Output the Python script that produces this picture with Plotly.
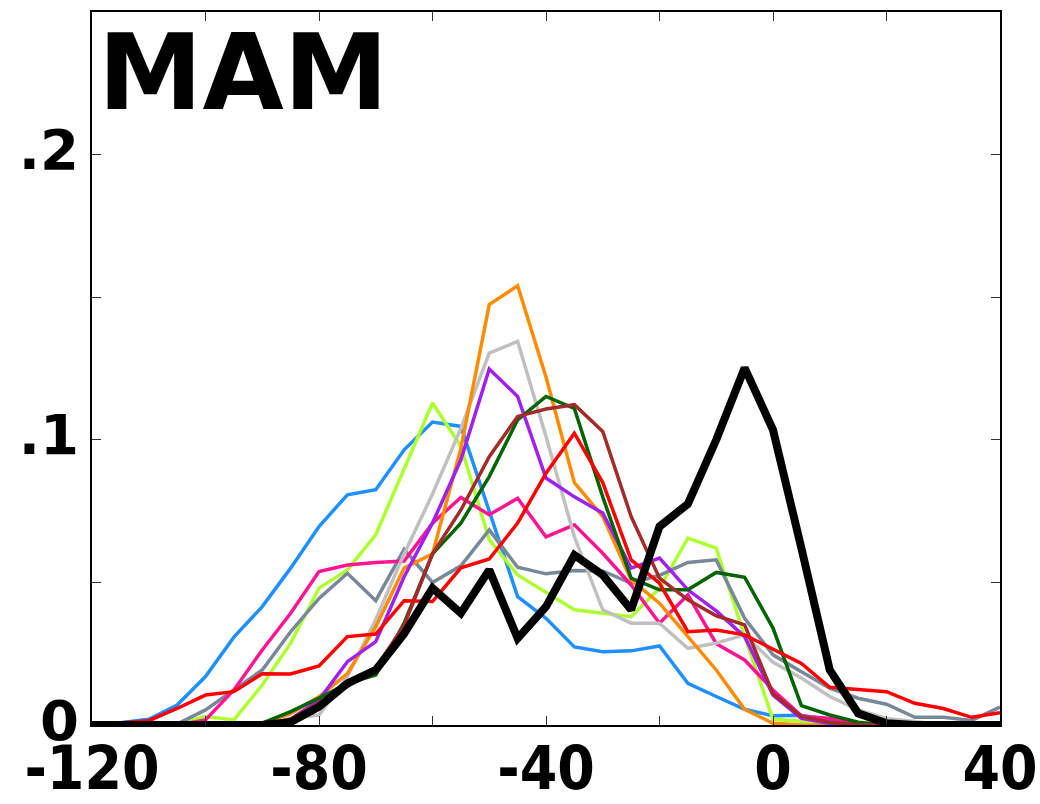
import plotly.graph_objects as go

x_bins = list(range(-120, 45, 5))

blue = [0, 0.0008, 0.002, 0.007, 0.017, 0.0308, 0.0415, 0.055, 0.0696, 0.0807, 0.0825, 0.0965, 0.1062, 0.1047, 0.075, 0.045, 0.0374, 0.0274, 0.0257, 0.026, 0.0277, 0.0146, 0.01, 0.0055, 0.0032, 0.0034, 0.0016, 0.0005, 0, 0, 0, 0, 0]
red = [0, 0.0006, 0.0015, 0.0058, 0.0105, 0.0117, 0.018, 0.0179, 0.0207, 0.031, 0.0319, 0.0436, 0.0433, 0.0551, 0.0582, 0.0708, 0.0883, 0.1023, 0.085, 0.0579, 0.0497, 0.0327, 0.0333, 0.0316, 0.0266, 0.0216, 0.0132, 0.0125, 0.0117, 0.0076, 0.0058, 0.0027, 0.0043]
pink = [0, 0, 0, 0, 0.0018, 0.0123, 0.0263, 0.0392, 0.0538, 0.0561, 0.057, 0.0575, 0.0708, 0.0798, 0.0737, 0.0795, 0.066, 0.0702, 0.0602, 0.0491, 0.0357, 0.0456, 0.0285, 0.0228, 0.0123, 0.0032, 0.0023, 0.0006, 0, 0, 0, 0, 0]
gray = [0, 0, 0, 0.0003, 0.0053, 0.0123, 0.0193, 0.0327, 0.0444, 0.0532, 0.0436, 0.0616, 0.050, 0.0558, 0.0684, 0.0553, 0.053, 0.0542, 0.054, 0.0497, 0.0525, 0.057, 0.0579, 0.0374, 0.0246, 0.0187, 0.0129, 0.0094, 0.0073, 0.0027, 0.0027, 0.0016, 0.0063]
lime = [0, 0, 0, 0.0003, 0.003, 0.0018, 0.014, 0.0287, 0.048, 0.0544, 0.0667, 0.0895, 0.1129, 0.0977, 0.065, 0.0526, 0.0465, 0.0404, 0.0392, 0.038, 0.048, 0.0655, 0.062, 0.031, 0.002, 0.0012, 0.0006, 0, 0, 0, 0, 0, 0]
orange = [0, 0, 0, 0, 0, 0, 0.0005, 0.004, 0.0099, 0.018, 0.0345, 0.055, 0.060, 0.097, 0.1474, 0.154, 0.122, 0.085, 0.0731, 0.0509, 0.0427, 0.031, 0.0193, 0.0055, 0.0006, 0, 0, 0, 0, 0, 0, 0, 0]
silver = [0, 0, 0, 0, 0, 0, 0, 0.0023, 0.0035, 0.017, 0.037, 0.060, 0.081, 0.104, 0.1304, 0.1345, 0.1012, 0.066, 0.0404, 0.0357, 0.0357, 0.0269, 0.0287, 0.0316, 0.022, 0.0165, 0.01, 0.0053, 0.0023, 0.0012, 0, 0, 0]
purple = [0, 0, 0, 0, 0, 0, 0, 0.002, 0.0088, 0.0222, 0.0292, 0.052, 0.0708, 0.093, 0.1248, 0.1152, 0.0866, 0.080, 0.0743, 0.055, 0.0585, 0.0474, 0.040, 0.031, 0.0105, 0.0023, 0.0005, 0, 0, 0, 0, 0, 0]
darkgreen = [0, 0, 0, 0, 0, 0, 0.0007, 0.0047, 0.0094, 0.0146, 0.0175, 0.0357, 0.060, 0.0708, 0.0871, 0.107, 0.1152, 0.111, 0.080, 0.0515, 0.0474, 0.0474, 0.0535, 0.0518, 0.034, 0.0068, 0.0035, 0.001, 0, 0, 0, 0, 0]
brown = [0, 0, 0, 0, 0, 0, 0, 0.002, 0.0076, 0.0135, 0.0199, 0.035, 0.060, 0.0754, 0.0941, 0.1082, 0.1108, 0.1123, 0.1029, 0.0731, 0.0515, 0.0439, 0.0383, 0.0351, 0.011, 0.003, 0.001, 0, 0, 0, 0, 0, 0]
observed = [0, 0, 0, 0, 0, 0, 0, 0.001, 0.0064, 0.0146, 0.0193, 0.032, 0.048, 0.0392, 0.0544, 0.0304, 0.0415, 0.0596, 0.0526, 0.0404, 0.0696, 0.0775, 0.1, 0.1252, 0.1035, 0.062, 0.0193, 0.0041, 0.0006, 0, 0, 0, 0]

series = [
    ("Model A", blue, "#1E90FF"),
    ("Model B", lime, "#ADFF2F"),
    ("Model C", gray, "#778899"),
    ("Model D", pink, "#FF1493"),
    ("Model E", silver, "#C0C0C0"),
    ("Model F", orange, "#FF8C00"),
    ("Model G", purple, "#A020F0"),
    ("Model H", darkgreen, "#006400"),
    ("Model I", brown, "#A52A2A"),
    ("Model J", red, "#FF0000"),
]

x_tickvals = [-120, -100, -80, -60, -40, -20, 0, 20, 40]
x_ticktext = ["-120", "", "-80", "", "-40", "", "0", "", "40"]
y_tickvals = [0, 0.05, 0.1, 0.15, 0.2]
y_ticktext = ["0", "", ".1", "", ".2"]

fig = go.Figure()
for name, vals, col in series:
    fig.add_trace(go.Scatter(x=x_bins, y=vals, mode="lines", name=name,
                             line=dict(color=col, width=3.5)))
fig.add_trace(go.Scatter(x=x_bins, y=observed, mode="lines", name="Observed",
                         line=dict(color="black", width=8)))

font_x = dict(family="DejaVu Sans Condensed", size=60, color="black", weight="bold")
font_y = dict(family="DejaVu Sans", size=56, color="black", weight="bold")

fig.update_layout(
    width=1040, height=804,
    margin=dict(l=92, r=40, t=12, b=79, autoexpand=False),
    paper_bgcolor="white", plot_bgcolor="white",
    showlegend=False,
    xaxis=dict(range=[-120, 40], tickvals=x_tickvals, ticktext=x_ticktext,
               ticks="inside", ticklen=9, tickcolor="#333", tickwidth=1,
               showline=True, linecolor="black", linewidth=1.5, mirror="ticks",
               showgrid=False, zeroline=False, tickfont=font_x,
               automargin=False, ticklabeloverflow="allow", ticklabelstandoff=-10),
    yaxis=dict(range=[0, 0.25], tickvals=y_tickvals, ticktext=y_ticktext,
               ticks="inside", ticklen=9, tickcolor="#333", tickwidth=1,
               showline=True, linecolor="black", linewidth=1.5, mirror="ticks",
               showgrid=False, zeroline=False, tickfont=font_y,
               automargin=False, ticklabeloverflow="allow", ticklabelshift=-5),
    annotations=[dict(text="MAM", xref="paper", yref="paper", x=0.004, y=0.914,
                      xanchor="left", yanchor="middle", showarrow=False,
                      font=dict(family="DejaVu Sans", size=105, color="black", weight="bold"))],
)

fig.write_html("out.html")
